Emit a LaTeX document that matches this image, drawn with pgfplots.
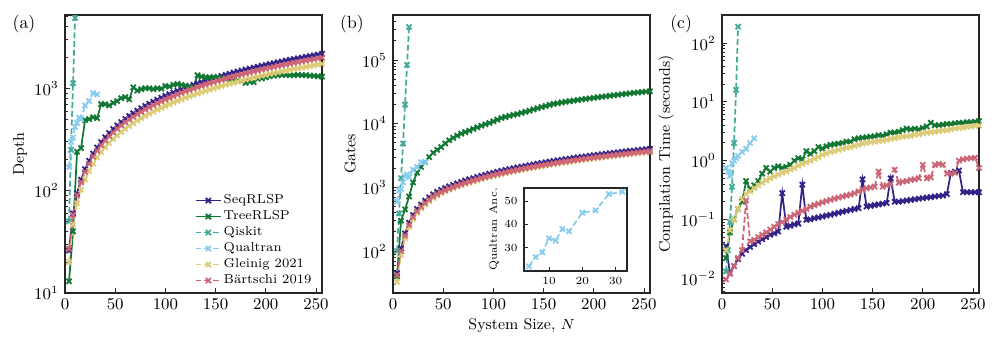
\documentclass[border=0pt]{standalone}
\usepackage{pgfplots}
\usepackage{pgfplotstable}
\pgfplotsset{compat=1.18}
\definecolor{cseq}{HTML}{332288}
\definecolor{ctree}{HTML}{117733}
\definecolor{cqis}{HTML}{44AA99}
\definecolor{cqual}{HTML}{88CCEE}
\definecolor{cglein}{HTML}{DDCC77}
\definecolor{cbart}{HTML}{CC6677}

\pgfplotstableread{
N seq tree glein bart
4 26 13 20 27
8 60 40 47 58
12 94 240 75 90
16 128 260 102 121
20 162 490 129 152
24 196 500 156 183
28 230 520 183 214
32 264 510 211 246
36 298 700 238 277
40 332 700 265 308
44 366 680 292 339
48 400 720 319 370
52 434 750 347 402
56 468 800 374 433
60 502 820 401 464
64 536 780 428 495
68 570 1020 455 526
72 604 950 483 558
76 638 980 510 589
80 672 1000 537 620
84 706 1000 564 651
88 740 980 591 682
92 774 1000 619 714
96 808 990 646 745
100 842 1050 673 776
104 876 1040 700 807
108 910 1080 727 838
112 944 1100 755 870
116 978 1080 782 901
120 1012 1060 809 932
124 1046 1030 836 963
128 1080 1020 863 994
132 1114 1340 891 1026
136 1148 1300 918 1057
140 1182 1280 945 1088
144 1216 1280 972 1119
148 1250 1290 999 1150
152 1284 1270 1027 1182
156 1318 1260 1054 1213
160 1352 1230 1081 1244
164 1386 1210 1108 1275
168 1420 1200 1135 1306
172 1454 1190 1163 1338
176 1488 1180 1190 1369
180 1522 1130 1217 1400
184 1556 1160 1244 1431
188 1590 1150 1271 1462
192 1624 1240 1299 1494
196 1658 1250 1326 1525
200 1692 1280 1353 1556
204 1726 1310 1380 1587
208 1760 1330 1407 1618
212 1794 1340 1435 1650
216 1828 1350 1462 1681
220 1862 1350 1489 1712
224 1896 1340 1516 1743
228 1930 1340 1543 1774
232 1964 1350 1571 1806
236 1998 1340 1598 1837
240 2032 1340 1625 1868
244 2066 1330 1652 1899
248 2100 1320 1679 1930
252 2134 1310 1707 1962
256 2168 1300 1734 1993
}\tabDepth

\pgfplotstableread{
N seq tree glein bart
4 45 40 33 42
8 110 300 88 100
12 190 450 160 175
16 280 720 240 258
20 370 1200 320 340
24 460 1700 400 423
28 540 2100 470 497
32 620 2500 540 570
36 700 3000 610 644
40 780 3500 680 718
44 850 3900 745 782
48 920 4300 810 846
52 980 4900 872 902
56 1040 5500 925 957
60 1100 6000 979 1012
64 1160 6500 1033 1067
68 1220 7000 1086 1122
72 1280 7400 1140 1178
76 1340 7800 1193 1233
80 1400 8300 1247 1288
84 1460 8800 1301 1343
88 1520 9300 1354 1398
92 1580 9800 1408 1454
96 1640 10300 1461 1509
100 1700 10900 1515 1564
104 1760 11600 1569 1619
108 1820 12300 1622 1674
112 1880 12800 1676 1730
116 1940 13300 1729 1785
120 2000 13800 1783 1840
124 2060 14200 1837 1895
128 2120 14800 1890 1950
132 2180 15400 1944 2006
136 2240 16000 1997 2061
140 2300 16800 2051 2116
144 2360 17500 2105 2171
148 2420 18300 2158 2226
152 2480 19000 2212 2282
156 2540 19800 2265 2337
160 2600 20500 2319 2392
164 2660 21000 2373 2447
168 2720 21600 2426 2502
172 2780 22100 2480 2558
176 2840 22600 2533 2613
180 2900 23100 2587 2668
184 2960 23600 2641 2723
188 3020 24100 2694 2778
192 3080 24600 2748 2834
196 3140 25000 2801 2889
200 3200 25500 2855 2944
204 3260 26000 2909 2999
208 3320 26500 2962 3054
212 3380 27000 3016 3110
216 3440 27500 3069 3165
220 3500 28000 3123 3220
224 3560 28500 3177 3275
228 3620 29000 3230 3330
232 3680 29500 3284 3386
236 3740 30000 3337 3441
240 3800 30500 3391 3496
244 3860 31000 3445 3551
248 3920 31500 3498 3606
252 3980 32000 3552 3662
256 4040 32300 3605 3717
}\tabGates

\pgfplotstableread{
N seq tree glein bart
4 0.035 0.022 0.03 0.0095
8 0.012 0.06 0.065 0.012
12 0.016 0.1 0.1 0.016
16 0.021 0.15 0.15 0.022
20 0.026 0.2 0.22 0.03
24 0.03 0.45 0.27 0.21
28 0.034 0.33 0.3 0.042
32 0.038 0.38 0.34 0.045
36 0.042 0.45 0.38 0.05
40 0.046 0.6 0.42 0.055
44 0.05 0.75 0.46 0.06
48 0.055 0.65 0.5 0.067
52 0.058 0.75 0.54 0.075
56 0.062 0.8 0.58 0.083
60 0.28 0.75 0.62 0.09
64 0.075 0.78 0.65 0.1
68 0.078 0.85 0.7 0.11
72 0.082 1.0 0.75 0.12
76 0.085 1.1 0.82 0.13
80 0.39 1.05 0.88 0.14
84 0.098 1.45 0.94 0.15
88 0.1 1.3 1.0 0.165
92 0.105 1.45 1.08 0.175
96 0.108 1.7 1.15 0.185
100 0.112 1.6 1.25 0.195
104 0.116 1.75 1.32 0.205
108 0.12 1.85 1.4 0.215
112 0.125 1.9 1.45 0.225
116 0.13 1.95 1.52 0.235
120 0.135 2.0 1.58 0.245
124 0.14 2.1 1.65 0.255
128 0.145 2.1 1.7 0.265
132 0.15 2.3 1.78 0.28
136 0.155 2.4 1.85 0.3
140 0.48 2.45 1.95 0.32
144 0.165 2.5 2.0 0.34
148 0.17 2.55 2.05 0.35
152 0.175 2.6 2.1 0.36
156 0.18 2.7 2.15 0.65
160 0.185 2.65 2.2 0.36
164 0.19 2.8 2.25 0.38
168 0.5 3.0 2.35 0.4
172 0.2 3.0 2.4 0.7
176 0.2 3.1 2.5 0.42
180 0.205 3.3 2.55 0.44
184 0.21 3.5 2.6 0.45
188 0.215 3.4 2.65 0.47
192 0.22 3.5 2.75 0.48
196 0.225 3.4 2.8 0.5
200 0.23 3.6 2.9 0.85
204 0.235 3.8 3.0 0.5
208 0.24 4.4 3.05 0.52
212 0.245 4.0 3.1 0.85
216 0.25 4.0 3.2 0.88
220 0.255 4.1 3.25 0.85
224 0.27 4.2 3.3 0.6
228 0.62 4.2 3.4 0.6
232 0.65 4.3 3.5 0.62
236 0.68 4.4 3.6 1.0
240 0.29 4.4 3.65 1.05
244 0.29 4.5 3.75 1.08
248 0.29 4.5 3.8 1.1
252 0.29 4.6 3.9 1.12
256 0.29 4.7 3.95 0.75
}\tabTime

\pgfplotstableread{
N depth gates time
4 50 100 0.013
6 250 390 0.03
8 1120 1400 0.09
10 4860 4900 0.36
12 21000 20000 2.0
14 95000 84000 16
16 420000 330000 190
}\tabQiskit

\pgfplotstableread{
N depth gates time anc
4 170 600 0.75 22
6 300 900 0.65 26
8 330 950 0.55 28
10 420 1200 0.9 34
12 460 1500 1.0 33
14 520 1600 1.1 38
16 500 1450 1.2 37
20 680 1900 1.4 45
24 750 2100 1.6 46
28 900 2500 2.0 53
32 870 2500 2.4 54
}\tabQualtran

\pgfplotsset{
  legend image code/.code={\draw[mark repeat=2,mark phase=2,#1] plot coordinates {(0pt,0pt) (7pt,0pt) (14pt,0pt)};},
  myline/.style={line width=0.95pt, mark=x, mark size=2pt, mark options={solid, line width=1pt}},
  mydash/.style={myline, dash pattern=on 3.2pt off 1.6pt},
}

\begin{document}
\begin{tikzpicture}
\useasboundingbox (0pt,0pt) rectangle (548.35pt,191.95pt);

% (a) Depth
\begin{axis}[scale only axis, width=141.35pt, height=152.9pt, anchor=south west,
    xmin=0, xmax=256, xtick={0,50,...,250}, ymode=log,
    tick align=inside, xtick pos=left, ytick pos=left,
    major tick length=2.8pt, minor tick length=1.6pt,
    axis line style={line width=0.6pt, black!85},
    every tick/.style={line width=0.5pt, black!85},
    tick label style={font=\fontsize{8.6}{10}\selectfont},
    label style={font=\fontsize{8.5}{10}\selectfont},
  at={(35.75pt,30.8pt)}, ymin=10, ymax=5200,
  ylabel={Depth}, ylabel style={at={(axis description cs:-0.175,0.5)}, anchor=center},
  legend style={draw=none, fill=none, at={(0.975,0.008)}, anchor=south east,
    font=\fontsize{7.1}{8}\selectfont, row sep=0pt, inner sep=1pt,
    nodes={inner sep=1pt, text height=5.2pt, text depth=1.6pt},
    cells={anchor=west}},
]
\addplot[cseq, myline] table[x=N, y=seq] {\tabDepth};
\addplot[ctree, myline] table[x=N, y=tree] {\tabDepth};
\addplot[cqis, mydash] table[x=N, y=depth] {\tabQiskit};
\addplot[cqual, mydash] table[x=N, y=depth] {\tabQualtran};
\addplot[cglein, mydash] table[x=N, y=glein] {\tabDepth};
\addplot[cbart, mydash] table[x=N, y=bart] {\tabDepth};
\legend{SeqRLSP, TreeRLSP, Qiskit, Qualtran, Gleinig 2021, Bärtschi 2019}
\end{axis}

% (b) Gates
\begin{axis}[scale only axis, width=141.35pt, height=152.9pt, anchor=south west,
    xmin=0, xmax=256, xtick={0,50,...,250}, ymode=log,
    tick align=inside, xtick pos=left, ytick pos=left,
    major tick length=2.8pt, minor tick length=1.6pt,
    axis line style={line width=0.6pt, black!85},
    every tick/.style={line width=0.5pt, black!85},
    tick label style={font=\fontsize{8.6}{10}\selectfont},
    label style={font=\fontsize{8.5}{10}\selectfont},
  at={(216.15pt,30.8pt)}, ymin=22, ymax=510000,
  ylabel={Gates}, ylabel style={at={(axis description cs:-0.167,0.5)}, anchor=center},
  xlabel={System Size, $N$}, xlabel style={at={(axis description cs:0.5,-0.119)}, anchor=center},
]
\addplot[cseq, myline] table[x=N, y=seq] {\tabGates};
\addplot[ctree, myline] table[x=N, y=tree] {\tabGates};
\addplot[cqis, mydash] table[x=N, y=gates] {\tabQiskit};
\addplot[cqual, mydash] table[x=N, y=gates] {\tabQualtran};
\addplot[cglein, mydash] table[x=N, y=glein] {\tabGates};
\addplot[cbart, mydash] table[x=N, y=bart] {\tabGates};
\end{axis}

% inset
\begin{axis}[at={(288.2pt,42.9pt)}, anchor=south west, scale only axis,
  width=56.65pt, height=45.65pt, xmin=2.5, xmax=33.4, ymin=20, ymax=55.6,
  xtick={10,20,30}, ytick={30,40,50},
  axis background/.style={fill=white},
  tick align=inside, xtick pos=left, ytick pos=left, major tick length=2pt,
  axis line style={line width=0.6pt, black!85},
  every tick/.style={line width=0.5pt, black!85},
  tick label style={font=\fontsize{6.2}{7}\selectfont},
  ylabel={Qualtran Anc.},
  ylabel style={font=\fontsize{5.9}{7}\selectfont, at={(axis description cs:-0.29,0.5)}, anchor=center},
]
\addplot[cqual, mydash] table[x=N, y=anc] {\tabQualtran};
\end{axis}

% (c) Time
\begin{axis}[scale only axis, width=141.35pt, height=152.9pt, anchor=south west,
    xmin=0, xmax=256, xtick={0,50,...,250}, ymode=log,
    tick align=inside, xtick pos=left, ytick pos=left,
    major tick length=2.8pt, minor tick length=1.6pt,
    axis line style={line width=0.6pt, black!85},
    every tick/.style={line width=0.5pt, black!85},
    tick label style={font=\fontsize{8.6}{10}\selectfont},
    label style={font=\fontsize{8.5}{10}\selectfont},
  at={(397.1pt,30.8pt)}, ymin=0.0056, ymax=300,
  ylabel={Compilation Time (seconds)}, ylabel style={at={(axis description cs:-0.218,0.5)}, anchor=center},
]
\addplot[cseq, myline] table[x=N, y=seq] {\tabTime};
\addplot[ctree, myline] table[x=N, y=tree] {\tabTime};
\addplot[cqis, mydash] table[x=N, y=time] {\tabQiskit};
\addplot[cqual, mydash] table[x=N, y=time] {\tabQualtran};
\addplot[cglein, mydash] table[x=N, y=glein] {\tabTime};
\addplot[cbart, mydash] table[x=N, y=bart] {\tabTime};
\end{axis}

\node[font=\fontsize{9.7}{11}\selectfont] at (13.2pt,178.75pt) {(a)};
\node[font=\fontsize{9.7}{11}\selectfont] at (193.6pt,178.75pt) {(b)};
\node[font=\fontsize{9.7}{11}\selectfont] at (374.6pt,178.75pt) {(c)};
\end{tikzpicture}
\end{document}
